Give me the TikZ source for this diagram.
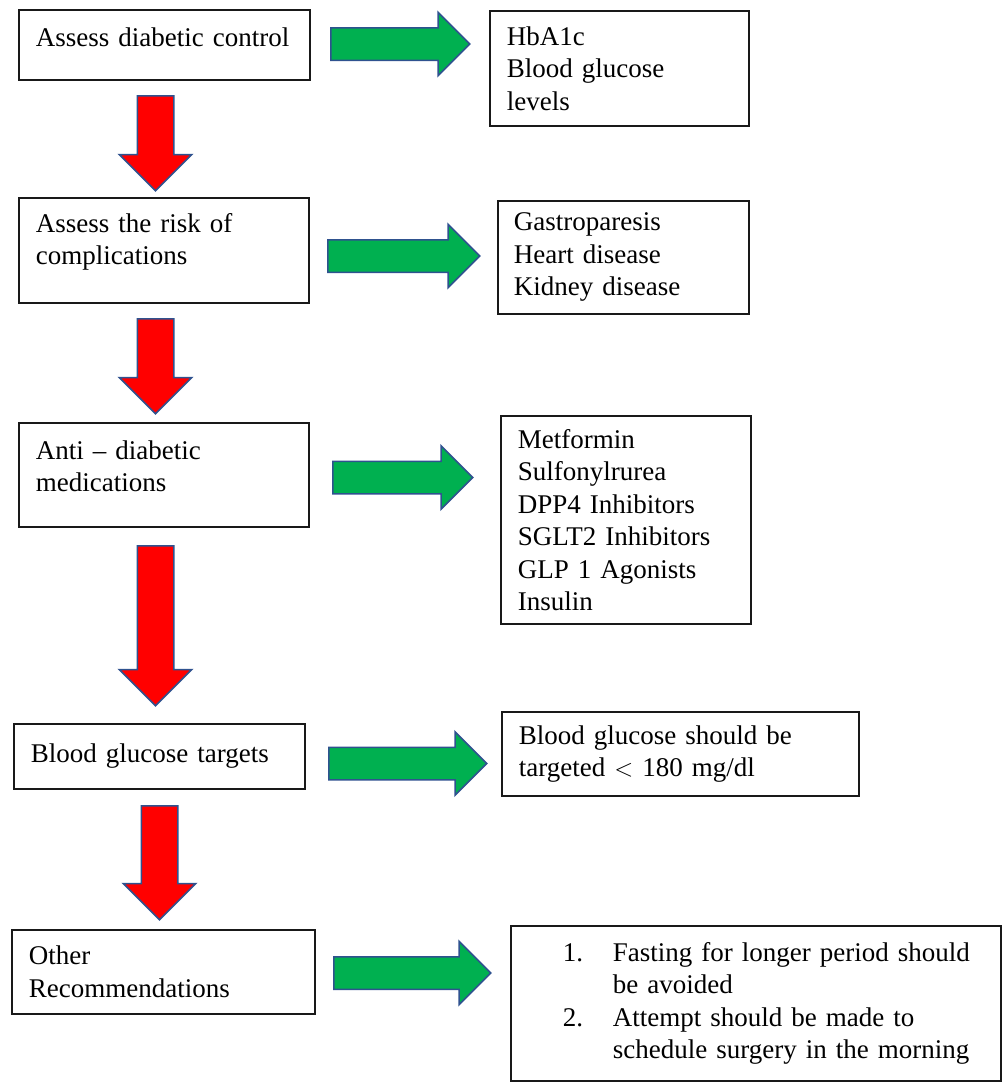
\documentclass[tikz,border=0pt]{standalone}
\usepackage{fontspec}
\setmainfont{Liberation Serif}
\usetikzlibrary{shapes.arrows, positioning}
\definecolor{stepgreen}{HTML}{00B050}
\definecolor{stepred}{HTML}{FF0000}
\definecolor{stepedge}{HTML}{2F528F}

\begin{document}
\begin{tikzpicture}[
    x=1pt, y=-1pt,
    font=\fontsize{27}{32.5}\selectfont,
    box/.style={rectangle, draw=black!90, line width=1.8pt, anchor=north west, align=left, inner xsep=17pt, inner ysep=0pt},
    downarrow/.style={single arrow, draw=stepedge, fill=stepred, line width=1.5pt, inner sep=17.5pt, minimum width=71pt, single arrow head extend=18pt, single arrow tip angle=90, shape border rotate=270, anchor=tail},
    rightarrow/.style={single arrow, draw=stepedge, fill=stepgreen, line width=1.5pt, inner sep=15.5pt, minimum width=62pt, single arrow head extend=15.5pt, single arrow tip angle=90, anchor=tail}
]
\useasboundingbox (0,0) rectangle (1006,1082);

% Steps
\node[box, minimum width=291pt, minimum height=70pt, text width=257pt, text depth=16pt] (ctrl) at (18,9) {Assess diabetic control};
\node[box, minimum width=290pt, minimum height=105pt, text width=256pt, text depth=55.5pt] (risk) at (18,197) {Assess the risk of\\complications};
\node[box, minimum width=290pt, minimum height=104pt, text width=256pt, text depth=50.5pt] (meds) at (18,422) {Anti -- diabetic\\medications};
\node[box, minimum width=291pt, minimum height=65pt, text width=257pt] (target) at (13,723) {Blood glucose targets};
\node[box, minimum width=303pt, minimum height=84pt, text width=269pt] (other) at (11,929) {Other\\Recommendations};

% Details
\node[box, minimum width=259pt, minimum height=115pt, text width=225pt] (ctrlinfo) at (489,10) {HbA1c\\Blood glucose\\levels};
\node[box, minimum width=251pt, minimum height=113pt, text width=219pt, inner xsep=16pt] (riskinfo) at (497,200) {Gastroparesis\\Heart disease\\Kidney disease};
\node[box, minimum width=250pt, minimum height=208pt, text width=216pt] (medsinfo) at (500,415) {Metformin\\Sulfonylrurea\\DPP4 Inhibitors\\SGLT2 Inhibitors\\GLP 1 Agonists\\Insulin};
\node[box, minimum width=357pt, minimum height=84pt, text width=323pt] (targetinfo) at (501,711) {Blood glucose should be\\targeted $<$ 180 mg/dl};
\node[box, minimum width=490pt, minimum height=155pt, text width=456pt] (otherinfo) at (510,925) {%
  \hspace*{35pt}\makebox[50pt][l]{1.}Fasting for longer period should\\
  \hspace*{85pt}be avoided\\
  \hspace*{35pt}\makebox[50pt][l]{2.}Attempt should be made to\\
  \hspace*{85pt}schedule surgery in the morning};

% Down arrows
\node[downarrow, minimum height=95pt] (d1) at (155.5,95) {};
\node[downarrow, minimum height=95pt] (d2) at (155.5,318) {};
\node[downarrow, minimum height=160pt] (d3) at (155.5,545) {};
\node[downarrow, minimum height=114pt] (d4) at (159.5,805) {};

% Right arrows
\node[rightarrow, minimum height=139pt] (r1) at (330,44) {};
\node[rightarrow, minimum height=152pt] (r2) at (327,256) {};
\node[rightarrow, minimum height=140pt] (r3) at (332,477.5) {};
\node[rightarrow, minimum height=158pt] (r4) at (328,763.5) {};
\node[rightarrow, minimum height=157pt] (r5) at (333,973) {};

\end{tikzpicture}
\end{document}
